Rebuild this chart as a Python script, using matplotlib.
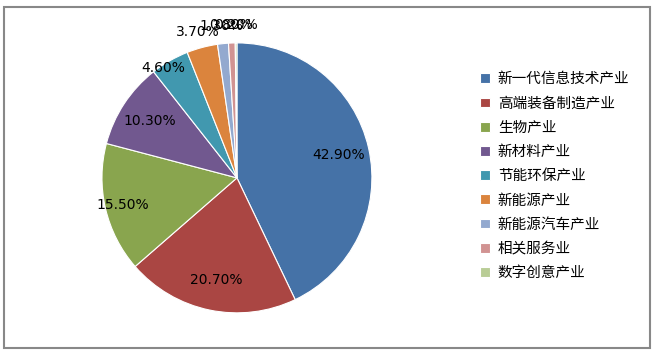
import numpy as np
import matplotlib
matplotlib.use("Agg")
import matplotlib.pyplot as plt
from matplotlib.patches import Rectangle

plt.rcParams['font.family'] = ['Noto Sans CJK SC', 'DejaVu Sans']

categories = ['新一代信息技术产业', '高端装备制造产业', '生物产业', '新材料产业',
              '节能环保产业', '新能源产业', '新能源汽车产业', '相关服务业', '数字创意产业']
values = [42.9, 20.7, 15.5, 10.3, 4.6, 3.7, 1.3, 0.8, 0.2]
colors = ['#4572A7', '#AA4643', '#89A54E', '#71588F', '#4198AF',
          '#DB843D', '#93A9CF', '#D19392', '#B9CD96']

fig = plt.figure(figsize=(6.6, 3.53), dpi=100)
ax = fig.add_axes([0.1545, 0.1136, 0.409, 0.765])
wedges, _ = ax.pie(values, colors=colors, startangle=90, counterclock=False,
                   wedgeprops=dict(linewidth=0.8, edgecolor='white'))
ax.set_xlim(-1, 1)
ax.set_ylim(-1, 1)
ax.set_aspect('equal')

rfac = [0.77, 0.77, 0.87, 0.77, 0.98, 1.12, 1.13, 1.13, 1.13]
aoff = [0, 0, 0, 0, 4, 0, 0, 0, 0]
for w, v, r, da in zip(wedges, values, rfac, aoff):
    ang = np.deg2rad((w.theta1 + w.theta2) / 2 + da)
    x, y = r * np.cos(ang), r * np.sin(ang)
    ax.text(x, y, f'{v:.2f}%', ha='center', va='center', fontsize=10,
            family='DejaVu Sans', color='#000000')

leg = fig.legend(wedges, categories, loc='upper left', bbox_to_anchor=(0.708, 0.832),
                 frameon=False, fontsize=10.5, handlelength=0.65, handleheight=0.65,
                 handletextpad=0.55, labelspacing=0.7)

fig.patches.append(Rectangle((4 / 660, 5 / 353), 646 / 660, 341 / 353,
                             transform=fig.transFigure, fill=False,
                             edgecolor='#888888', linewidth=1.5))

fig.savefig('out.png', dpi=100)
